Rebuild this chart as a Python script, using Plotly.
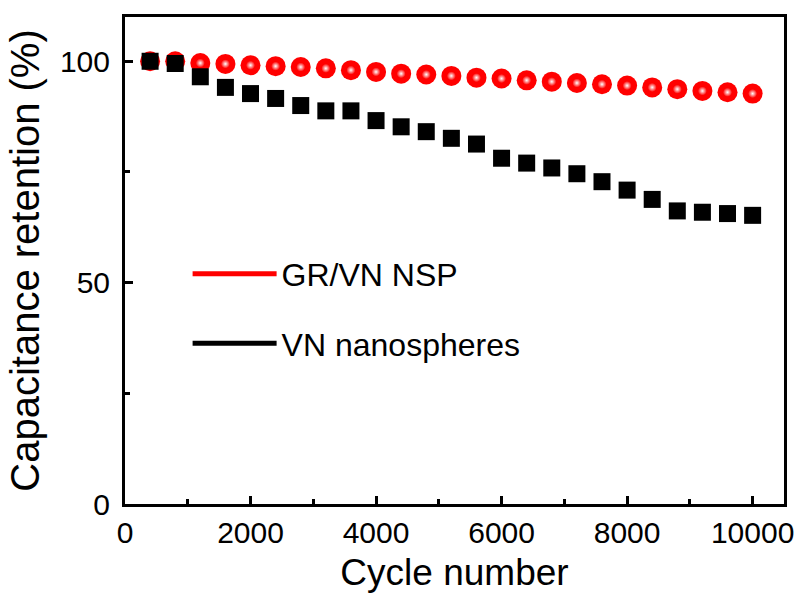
import plotly.graph_objects as go

cycles = [400, 800, 1200, 1600, 2000, 2400, 2800, 3200, 3600, 4000, 4400, 4800, 5200,
          5600, 6000, 6400, 6800, 7200, 7600, 8000, 8400, 8800, 9200, 9600, 10000]
gr_vn_nsp = [100.0, 100.0, 99.6, 99.4, 99.1, 98.9, 98.7, 98.4, 98.0, 97.6, 97.2, 97.0, 96.7,
             96.3, 96.1, 95.7, 95.4, 95.1, 94.8, 94.5, 94.1, 93.7, 93.3, 93.0, 92.7]
vn_nanospheres = [100.0, 99.5, 96.5, 94.1, 92.7, 91.6, 90.0, 88.8, 88.8, 86.6, 85.2, 84.1, 82.6,
                  81.3, 78.1, 77.0, 75.9, 74.6, 72.8, 70.9, 68.8, 66.2, 65.9, 65.6, 65.2]

names = ["GR/VN NSP", "VN nanospheres"]
x_ticks = [0, 2000, 4000, 6000, 8000, 10000]
y_ticks = [0, 50, 100]

FONT = "Arial, Liberation Sans, sans-serif"

fig = go.Figure()

# red glossy spheres
fig.add_trace(go.Scatter(
    x=cycles, y=gr_vn_nsp, mode="markers", showlegend=False,
    marker=dict(symbol="circle", size=20, color="#ff0000", line=dict(width=0)),
))
fig.add_trace(go.Scatter(
    x=cycles, y=gr_vn_nsp, mode="markers", showlegend=False, hoverinfo="skip",
    marker=dict(symbol="circle", size=9, color="#ff0000", line=dict(width=0),
                gradient=dict(type="radial", color="#ffffff")),
))
# black squares
fig.add_trace(go.Scatter(
    x=cycles, y=vn_nanospheres, mode="markers", showlegend=False,
    marker=dict(symbol="square", size=17, color="#000000", line=dict(width=0)),
))

# legend entries (lines only, as in the reference)
fig.add_trace(go.Scatter(x=[None], y=[None], mode="lines", name=names[0],
                         line=dict(color="#ff0000", width=5), legendgroup="a"))
fig.add_trace(go.Scatter(x=[None], y=[None], mode="lines", name=names[1],
                         line=dict(color="#000000", width=5), legendgroup="b"))

axis_common = dict(
    showline=True, linewidth=3, linecolor="black", mirror=True,
    ticks="inside", ticklen=8, tickwidth=3, tickcolor="black",
    showgrid=False, zeroline=False, automargin=False,
    tickfont=dict(family=FONT, size=30, color="black"),
)

fig.update_xaxes(
    range=[0, 10500], tickvals=x_ticks, ticktext=[str(v) for v in x_ticks],
    minor=dict(dtick=1000, tick0=0, ticks="inside", ticklen=5, tickwidth=3, tickcolor="black"),
    title=dict(text="Cycle number", font=dict(family=FONT, size=37, color="black"), standoff=12),
    **axis_common,
)
fig.update_yaxes(
    range=[0, 110], tickvals=y_ticks, ticktext=[str(v) for v in y_ticks],
    minor=dict(dtick=25, tick0=0, ticks="inside", ticklen=5, tickwidth=3, tickcolor="black"),
    title=dict(text="Capacitance retention (%)", font=dict(family=FONT, size=40, color="black"), standoff=8),
    ticklabelstandoff=6,
    **axis_common,
)

fig.update_layout(
    width=799, height=603,
    margin=dict(l=125, r=15, t=17, b=99),
    paper_bgcolor="white", plot_bgcolor="white",
    legend=dict(x=0.095, y=0.529, xanchor="left", yanchor="top",
                font=dict(family=FONT, size=32, color="black"),
                bgcolor="rgba(0,0,0,0)", itemwidth=84, tracegroupgap=25,
                traceorder="grouped"),
)

fig.write_html("out.html")
